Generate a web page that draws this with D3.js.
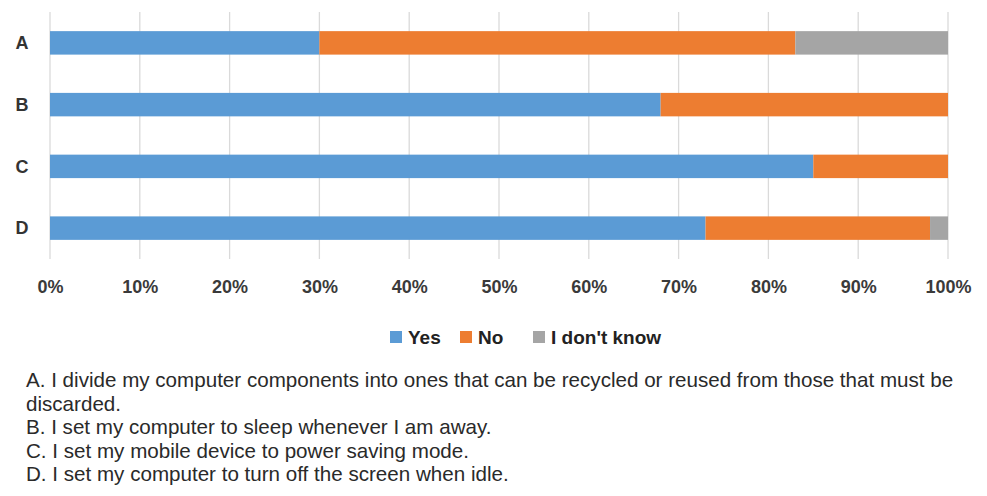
<!DOCTYPE html>
<html>
<head>
<meta charset="utf-8">
<script src="https://cdn.jsdelivr.net/npm/d3@7"></script>
<style>
  html, body { margin: 0; padding: 0; background: #fff; }
  svg { display: block; font-family: "Liberation Sans", Arial, sans-serif; }
</style>
</head>
<body>
<svg id="chart" width="987" height="496"></svg>
<script>
// Survey statements and share of answers (percent)
const categories = ["A", "B", "C", "D"];
const seriesNames = ["Yes", "No", "I don't know"];
const yes = [30, 68, 85, 73];
const no = [53, 32, 15, 25];
const dontKnow = [17, 0, 0, 2];
const tickValues = [0, 10, 20, 30, 40, 50, 60, 70, 80, 90, 100];
const notes = [
  "A. I divide my computer components into ones that can be recycled or reused from those that must be",
  "discarded.",
  "B. I set my computer to sleep whenever I am away.",
  "C. I set my mobile device to power saving mode.",
  "D. I set my computer to turn off the screen when idle."
];
const colors = ["#5b9bd5", "#ed7d31", "#a5a5a5"];

const rows = categories.map((c, i) => ({ cat: c, "Yes": yes[i], "No": no[i], "I don't know": dontKnow[i] }));
const stacked = d3.stack().keys(seriesNames)(rows);

const svg = d3.select("#chart");
const x = d3.scaleLinear().domain([0, 100]).range([50, 948]);
const y = d3.scaleBand().domain(categories).range([12, 259]).paddingInner(0.62).paddingOuter(0.31);

// vertical gridlines
svg.append("g").selectAll("line").data(tickValues).join("line")
  .attr("x1", d => x(d)).attr("x2", d => x(d))
  .attr("y1", 12).attr("y2", 259)
  .attr("stroke", "#dadada").attr("stroke-width", 1.3);

// stacked bars
svg.append("g").selectAll("g").data(stacked).join("g")
  .attr("fill", (d, i) => colors[i])
  .selectAll("rect").data(d => d).join("rect")
  .attr("x", d => x(d[0]))
  .attr("width", d => x(d[1]) - x(d[0]))
  .attr("y", d => y(d.data.cat))
  .attr("height", y.bandwidth());

// category labels
svg.append("g").selectAll("text").data(categories).join("text")
  .attr("x", 22).attr("y", d => y(d) + y.bandwidth() / 2)
  .attr("dy", "0.35em").attr("text-anchor", "middle")
  .attr("font-size", 18).attr("font-weight", "bold").attr("fill", "#333")
  .text(d => d);

// x axis tick labels
const xAxis = d3.axisBottom(x).tickValues(tickValues).tickFormat(d => d + "%").tickSize(0).tickPadding(0);
const ax = svg.append("g").attr("transform", "translate(0,280)").call(xAxis);
ax.select(".domain").remove();
ax.selectAll("text").attr("font-size", 18).attr("font-weight", "bold").attr("fill", "#3a3a3a")
  .attr("font-family", "'Liberation Sans', Arial, sans-serif");

// legend
const legendX = [390, 460, 533];
const lg = svg.append("g").selectAll("g").data(seriesNames).join("g")
  .attr("transform", (d, i) => `translate(${legendX[i]},337)`);
lg.append("rect").attr("x", 0).attr("y", -6).attr("width", 12).attr("height", 12)
  .attr("fill", (d, i) => colors[i]);
lg.append("text").attr("x", 18).attr("dy", "0.36em")
  .attr("font-size", 19).attr("font-weight", "bold").attr("fill", "#222")
  .text(d => d);

// statement notes
svg.append("g").selectAll("text").data(notes).join("text")
  .attr("x", 26).attr("y", (d, i) => 387 + i * 23.6)
  .attr("font-size", 20.6).attr("fill", "#2a2a2a")
  .text(d => d);
</script>
</body>
</html>
